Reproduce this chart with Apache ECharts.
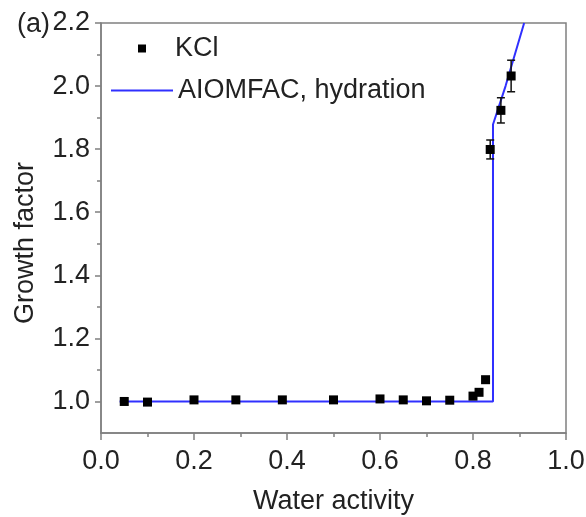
<!DOCTYPE html>
<html>
<head>
<meta charset="utf-8">
<script src="https://cdn.jsdelivr.net/npm/echarts@6/dist/echarts.min.js"></script>
<style>
  html, body { margin: 0; padding: 0; background: #fff; }
  #chart { width: 586px; height: 517px; }
</style>
</head>
<body>
<div id="chart"></div>
<script>
// KCl measurements: water activity, growth factor, error (0 = no bar)
const kclAw = [0.05, 0.10, 0.20, 0.29, 0.39, 0.50, 0.60, 0.65, 0.70, 0.75, 0.80, 0.813, 0.827, 0.837, 0.860, 0.882];
const kclGf = [1.000, 0.998, 1.005, 1.005, 1.005, 1.005, 1.008, 1.005, 1.002, 1.004, 1.017, 1.029, 1.069, 1.799, 1.923, 2.032];
const kclErr = [0, 0, 0, 0, 0, 0, 0, 0, 0, 0, 0, 0, 0, 0.03, 0.04, 0.05];

// AIOMFAC hydration curve
const modelAw = [0.04, 0.843, 0.843, 0.87, 0.91];
const modelGf = [1.0, 1.0, 1.878, 2.0, 2.2];

const xTicks = [0, 0.2, 0.4, 0.6, 0.8, 1.0];
const yTicks = [1.0, 1.2, 1.4, 1.6, 1.8, 2.0, 2.2];
const yMinorTicks = [1.1, 1.3, 1.5, 1.7, 1.9, 2.1];

const font = 'Liberation Sans, Arial, sans-serif';
const fs = 27;
const axisGray = '#808080';
const textColor = '#222';
const lineBlue = '#3030ff';

const scatterData = kclAw.map((x, i) => [x, kclGf[i]]);
const errData = kclAw.map((x, i) => [x, kclGf[i] - kclErr[i], kclGf[i] + kclErr[i]])
  .filter((d, i) => kclErr[i] > 0);
const lineData = modelAw.map((x, i) => [x, modelGf[i]]);

const chart = echarts.init(document.getElementById('chart'));

chart.setOption({
  animation: false,
  backgroundColor: '#fff',
  title: {
    text: '(a)',
    left: 12,
    top: 6,
    textStyle: { fontFamily: font, fontSize: fs, fontWeight: 'normal', color: textColor }
  },
  grid: {
    left: 101, right: 20, top: 23, bottom: 84,
    outerBoundsMode: 'none',
    containLabel: false,
    show: true, borderColor: axisGray, borderWidth: 1.5
  },
  legend: [
    {
      data: [{ name: 'KCl', icon: 'rect' }],
      orient: 'vertical',
      left: 133,
      top: 30,
      itemWidth: 8,
      itemHeight: 8,
      textStyle: { fontFamily: font, fontSize: fs, color: textColor, padding: [0, 0, 0, 24] }
    },
    {
      data: [{ name: 'AIOMFAC, hydration', icon: 'rect' }],
      orient: 'vertical',
      left: 106,
      top: 72,
      itemWidth: 62,
      itemHeight: 2,
      textStyle: { fontFamily: font, fontSize: fs, color: textColor, padding: [0, 0, 0, 0] }
    }
  ],
  xAxis: {
    type: 'value',
    min: 0,
    max: 1,
    interval: 0.2,
    name: 'Water activity',
    nameLocation: 'middle',
    nameGap: 55,
    nameTextStyle: { fontFamily: font, fontSize: fs, color: textColor },
    axisLine: { lineStyle: { color: axisGray, width: 1.5 } },
    axisTick: { show: true, inside: false, length: 7, lineStyle: { color: axisGray, width: 1.5 } },
    minorTick: { show: true, splitNumber: 2, length: 4, lineStyle: { color: axisGray, width: 1.5 } },
    axisLabel: {
      fontFamily: font, fontSize: fs, color: textColor, margin: 15,
      customValues: xTicks,
      formatter: v => v.toFixed(1)
    },
    splitLine: { show: false }
  },
  yAxis: [
    {
      type: 'value',
      min: 0.9,
      max: 2.2,
      name: 'Growth factor',
      nameLocation: 'middle',
      nameGap: 62,
      nameTextStyle: { fontFamily: font, fontSize: fs, color: textColor, padding: [0, 30, 0, 0] },
      axisLine: { show: true, lineStyle: { color: axisGray, width: 1.5 } },
      axisTick: { show: true, length: 6, customValues: yTicks, lineStyle: { color: axisGray, width: 1.5 } },
      axisLabel: {
        fontFamily: font, fontSize: fs, color: textColor, margin: 11,
        customValues: yTicks,
        formatter: v => v.toFixed(1)
      },
      splitLine: { show: false }
    },
    {
      type: 'value',
      position: 'left',
      min: 0.9,
      max: 2.2,
      axisLine: { show: false },
      axisTick: { show: true, length: 4, customValues: yMinorTicks, lineStyle: { color: axisGray, width: 1.5 } },
      axisLabel: { show: false },
      splitLine: { show: false }
    }
  ],
  series: [
    {
      name: 'AIOMFAC, hydration',
      type: 'line',
      data: lineData,
      symbol: 'none',
      color: lineBlue,
      lineStyle: { color: lineBlue, width: 2 },
      z: 2
    },
    {
      name: 'KCl error',
      type: 'custom',
      data: errData,
      z: 3,
      renderItem: (params, api) => {
        const lo = api.coord([api.value(0), api.value(1)]);
        const hi = api.coord([api.value(0), api.value(2)]);
        const w = 4;
        const style = { stroke: '#111', lineWidth: 1.5 };
        return {
          type: 'group',
          children: [
            { type: 'line', shape: { x1: lo[0], y1: lo[1], x2: hi[0], y2: hi[1] }, style },
            { type: 'line', shape: { x1: lo[0] - w, y1: lo[1], x2: lo[0] + w, y2: lo[1] }, style },
            { type: 'line', shape: { x1: hi[0] - w, y1: hi[1], x2: hi[0] + w, y2: hi[1] }, style }
          ]
        };
      }
    },
    {
      name: 'KCl',
      type: 'scatter',
      data: scatterData,
      symbol: 'rect',
      symbolSize: 9,
      color: '#000',
      itemStyle: { color: '#000', opacity: 1 },
      z: 4
    }
  ]
});
</script>
</body>
</html>
